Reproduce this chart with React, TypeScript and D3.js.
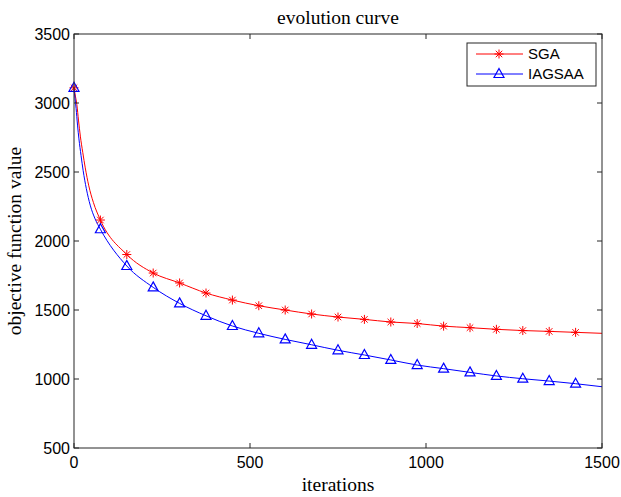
import React, { useEffect, useRef } from 'react';
import * as d3 from 'd3';

// marker positions (iterations) shared by both series
const markerIters = [0, 75, 150, 225, 300, 375, 450, 525, 600, 675, 750, 825, 900, 975, 1050, 1125, 1200, 1275, 1350, 1425];
const sgaMarkers = [3110, 2152, 1902, 1768, 1696, 1623, 1572, 1531, 1500, 1471, 1449, 1432, 1413, 1402, 1383, 1372, 1360, 1351, 1345, 1338];
const iagsaaMarkers = [3110, 2085, 1819, 1664, 1548, 1458, 1384, 1331, 1287, 1248, 1208, 1174, 1138, 1101, 1075, 1048, 1022, 1002, 985, 966];

// early steep part of the curves (before first marker after 0)
const sgaEarlyIters = [4, 8, 13, 18, 25, 32, 42, 55];
const sgaEarly = [3050, 2990, 2870, 2760, 2640, 2530, 2400, 2280];
const iagsaaEarlyIters = [3, 6, 10, 14, 20, 26, 35, 46, 60];
const iagsaaEarly = [3030, 2960, 2840, 2740, 2620, 2510, 2380, 2260, 2160];

const endIter = 1500;
const sgaEnd = 1331;
const iagsaaEnd = 944;

const xTicks = [0, 500, 1000, 1500];
const yTicks = [500, 1000, 1500, 2000, 2500, 3000, 3500];

const W = 621, H = 497;
const margin = { left: 74, right: 19, top: 34, bottom: 49 };

function buildLine(earlyIters: number[], early: number[], marks: number[], end: number) {
    const pts: [number, number][] = [[markerIters[0], marks[0]]];
    earlyIters.forEach((it, i) => pts.push([it, early[i]]));
    for (let i = 1; i < markerIters.length; i++) pts.push([markerIters[i], marks[i]]);
    pts.push([endIter, end]);
    return pts;
}

export default function App() {
    const ref = useRef<SVGSVGElement>(null);

    useEffect(() => {
        const svg = d3.select(ref.current);
        svg.selectAll('*').remove();

        const x = d3.scaleLinear().domain([0, 1500]).range([margin.left, W - margin.right]);
        const y = d3.scaleLinear().domain([500, 3500]).range([H - margin.bottom, margin.top]);
        const axisColor = '#262626';
        const sans = 'Arial, "Liberation Sans", Helvetica, sans-serif';
        const serif = '"Times New Roman", "Liberation Serif", serif';

        svg.append('rect').attr('width', W).attr('height', H).attr('fill', '#fff');

        // title + axis labels
        svg.append('text')
            .attr('x', (x(0) + x(1500)) / 2).attr('y', 24)
            .attr('text-anchor', 'middle')
            .style('font-family', serif).style('font-size', '19.5px')
            .text('evolution curve');
        svg.append('text')
            .attr('x', (x(0) + x(1500)) / 2).attr('y', 491)
            .attr('text-anchor', 'middle')
            .style('font-family', serif).style('font-size', '19.5px')
            .text('iterations');
        svg.append('text')
            .attr('transform', 'translate(21,' + (y(500) + y(3500)) / 2 + ') rotate(-90)')
            .attr('text-anchor', 'middle')
            .style('font-family', serif).style('font-size', '19.5px')
            .text('objective function value');

        // curves
        const line = d3.line<[number, number]>()
            .x(d => x(d[0])).y(d => y(d[1]))
            .curve(d3.curveMonotoneX);

        const plot = svg.append('g');
        plot.append('path')
            .datum(buildLine(sgaEarlyIters, sgaEarly, sgaMarkers, sgaEnd))
            .attr('d', line).attr('fill', 'none').attr('stroke', '#ff0000').attr('stroke-width', 1);
        plot.append('path')
            .datum(buildLine(iagsaaEarlyIters, iagsaaEarly, iagsaaMarkers, iagsaaEnd))
            .attr('d', line).attr('fill', 'none').attr('stroke', '#0000ff').attr('stroke-width', 1);

        const star = (r: number) => {
            const a = r * 0.72;
            return `M${-r},0L${r},0M0,${-r}L0,${r}M${-a},${-a}L${a},${a}M${-a},${a}L${a},${-a}`;
        };
        const tri = 'M0,-5.5L5,3.5L-5,3.5Z';

        plot.selectAll('.sga').data(sgaMarkers).enter().append('path')
            .attr('transform', (d, i) => 'translate(' + x(markerIters[i]) + ',' + y(d) + ')')
            .attr('d', star(4.5)).attr('stroke', '#ff0000').attr('fill', 'none').attr('stroke-width', 1);
        plot.selectAll('.iag').data(iagsaaMarkers).enter().append('path')
            .attr('transform', (d, i) => 'translate(' + x(markerIters[i]) + ',' + y(d) + ')')
            .attr('d', tri).attr('stroke', '#0000ff').attr('fill', 'none').attr('stroke-width', 1.2);

        // axes box
        const ax = svg.append('g').attr('stroke', axisColor).attr('fill', 'none');
        ax.append('rect')
            .attr('x', x(0)).attr('y', y(3500))
            .attr('width', x(1500) - x(0)).attr('height', y(500) - y(3500))
            .attr('stroke-width', 1);
        xTicks.forEach(t => {
            ax.append('line').attr('x1', x(t)).attr('x2', x(t)).attr('y1', y(500)).attr('y2', y(500) - 5);
            ax.append('line').attr('x1', x(t)).attr('x2', x(t)).attr('y1', y(3500)).attr('y2', y(3500) + 5);
        });
        yTicks.forEach(t => {
            ax.append('line').attr('x1', x(0)).attr('x2', x(0) + 5).attr('y1', y(t)).attr('y2', y(t));
            ax.append('line').attr('x1', x(1500)).attr('x2', x(1500) - 5).attr('y1', y(t)).attr('y2', y(t));
        });

        svg.selectAll('.xt').data(xTicks).enter().append('text')
            .attr('x', d => x(d)).attr('y', 468)
            .attr('text-anchor', 'middle')
            .style('font-family', sans).style('font-size', '16px').attr('fill', '#000')
            .text(d => d);
        svg.selectAll('.yt').data(yTicks).enter().append('text')
            .attr('x', x(0) - 4).attr('y', d => y(d)).attr('dy', '0.35em')
            .attr('text-anchor', 'end')
            .style('font-family', sans).style('font-size', '16px').attr('fill', '#000')
            .text(d => d);

        // legend
        const lg = svg.append('g');
        lg.append('rect').attr('x', 467).attr('y', 43).attr('width', 129).attr('height', 43)
            .attr('fill', '#fff').attr('stroke', axisColor);
        const items = [
            { name: 'SGA', color: '#ff0000', d: star(4.5), w: 1, yy: 54 },
            { name: 'IAGSAA', color: '#0000ff', d: tri, w: 1.2, yy: 74 },
        ];
        items.forEach(it => {
            lg.append('line').attr('x1', 476).attr('x2', 523).attr('y1', it.yy).attr('y2', it.yy)
                .attr('stroke', it.color);
            lg.append('path').attr('transform', 'translate(499,' + it.yy + ')')
                .attr('d', it.d).attr('stroke', it.color).attr('fill', 'none').attr('stroke-width', it.w);
            lg.append('text').attr('x', 528).attr('y', it.yy).attr('dy', '0.36em')
                .style('font-family', sans).style('font-size', '15px')
                .text(it.name);
        });
    }, []);

    return (
        <svg ref={ref} width={W} height={H}
            style={{ position: 'absolute', left: 0, top: 0, display: 'block' }} />
    );
}
